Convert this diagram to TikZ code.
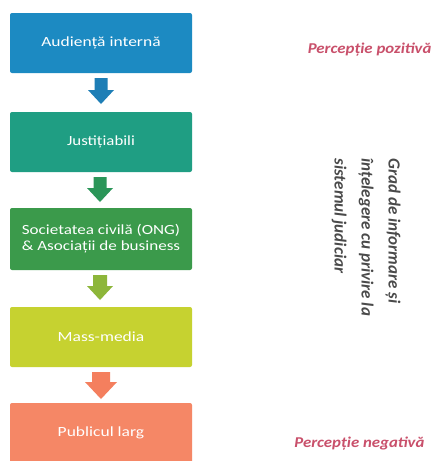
\documentclass[tikz,border=0pt]{standalone}
\usepackage{fontspec}
\setmainfont{Carlito}
\definecolor{c1}{HTML}{1C8AC2}
\definecolor{c2}{HTML}{1F9E83}
\definecolor{c3}{HTML}{3B9A4B}
\definecolor{c4}{HTML}{C6D230}
\definecolor{c5}{HTML}{F58766}
\definecolor{a1}{HTML}{1E7EB6}
\definecolor{a2}{HTML}{2B9659}
\definecolor{a3}{HTML}{8DB63A}
\definecolor{a4}{HTML}{F47F5E}
\definecolor{pcol}{HTML}{C9506B}
\definecolor{gcol}{HTML}{4A4A4A}
% #1 top-centre coordinate, #2 colour, #3 shaft half width, #4 head half width, #5 head start, #6 length
\newcommand\dnarr[6]{%
  \fill[#2] (#1) ++(-#3,0) -- ++(2*#3,0) -- ++(0,#5) -- ++(#4-#3,0)
    -- ($(#1)+(0,#6)$) -- ($(#1)+(-#4,#5)$) -- ($(#1)+(-#3,#5)$) -- cycle;}
\usetikzlibrary{calc}
\begin{document}
\begin{tikzpicture}[x=1pt,y=-1pt,
  box/.style={rectangle, rounded corners=2pt, minimum width=182pt, inner sep=0pt,
    text=white, font=\fontsize{14}{17}\selectfont, align=center},
  side/.style={text=pcol, font=\fontsize{15}{17}\selectfont\itshape\bfseries}]
\useasboundingbox[fill=white] (0,0) rectangle (437,461);
\node[box, fill=c1, minimum height=60pt] (b1) at (101,43) {\scalebox{1.25}[1]{Audiență internă}};
\node[box, fill=c2, minimum height=60pt] (b2) at (101,142) {\scalebox{1.2}[1]{Justițiabili}};
\node[box, fill=c3, minimum height=62pt] (b3) at (101,239) {\scalebox{1.22}[1]{Societatea civilă (ONG)}\\[-1pt]\scalebox{1.22}[1]{\& Asociații de business}};
\node[box, fill=c4, minimum height=60pt] (b4) at (101,337) {\scalebox{1.25}[1]{Mass-media}};
\node[box, fill=c5, minimum height=60pt] (b5) at (101,433) {\scalebox{1.25}[1]{Publicul larg}};
\coordinate (r1) at (101,78);
\coordinate (r2) at (100,177);
\coordinate (r3) at (100,275);
\coordinate (r4) at (101,372);
\dnarr{r1}{a1}{6.5}{13}{12}{26}
\dnarr{r2}{a2}{6.5}{13}{11}{25}
\dnarr{r3}{a3}{7}{13}{11}{25}
\dnarr{r4}{a4}{9}{16}{10}{27}
\node[side, anchor=east] (pp) at (435,50) {\scalebox{1.12}[1]{Percepție pozitivă}};
\node[side, anchor=east] (pn) at (428,444) {\scalebox{1.12}[1]{Percepție negativă}};
\node[rotate=-90, anchor=north west, text=gcol, align=left,
  font=\fontsize{17}{27}\selectfont\itshape\bfseries] (g) at (404,155)
  {Grad de informare și\\înțelegere cu privire la\\sistemul judiciar};
\end{tikzpicture}
\end{document}
